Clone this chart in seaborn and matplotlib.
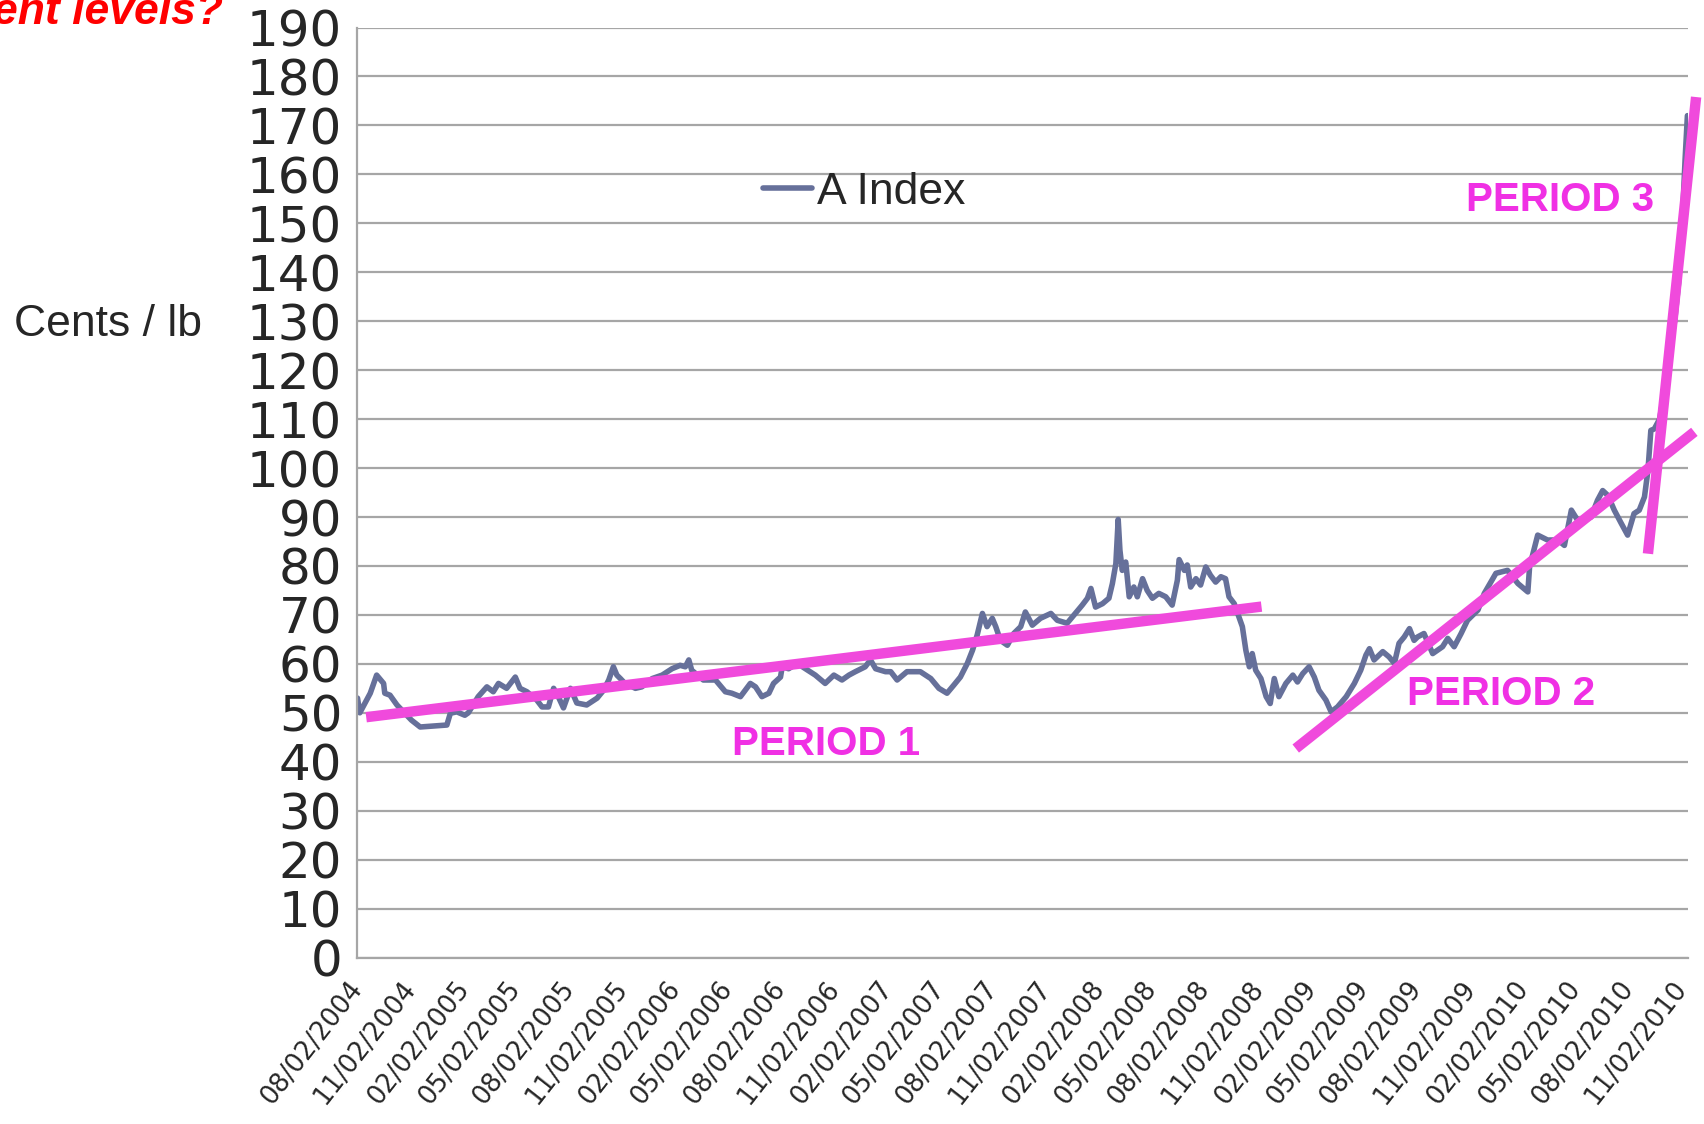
import pandas as pd
import matplotlib
matplotlib.use('Agg')
import matplotlib.pyplot as plt
import seaborn as sns

# Cotlook A Index, cents / lb
dates = [
    '2004-08-02', '2004-08-06', '2004-08-24', '2004-09-04', '2004-09-16', '2004-09-18',
    '2004-09-27', '2004-10-09', '2004-11-03', '2004-11-18', '2004-12-10', '2005-01-03',
    '2005-01-09', '2005-01-20', '2005-02-03', '2005-02-09', '2005-02-26', '2005-03-13',
    '2005-03-24', '2005-04-02', '2005-04-16', '2005-05-01', '2005-05-09', '2005-05-21',
    '2005-06-07', '2005-06-16', '2005-06-27', '2005-07-06', '2005-07-14', '2005-07-23',
    '2005-08-04', '2005-08-15', '2005-09-01', '2005-09-19', '2005-09-30', '2005-10-09',
    '2005-10-17', '2005-10-23', '2005-10-29', '2005-11-06', '2005-11-24', '2005-12-05',
    '2005-12-23', '2006-01-09', '2006-01-26', '2006-02-09', '2006-02-18', '2006-02-24',
    '2006-03-01', '2006-03-21', '2006-04-11', '2006-04-28', '2006-05-09', '2006-05-24',
    '2006-06-10', '2006-06-19', '2006-06-30', '2006-07-12', '2006-07-20', '2006-08-01',
    '2006-08-04', '2006-08-15', '2006-08-30', '2006-09-13', '2006-09-30', '2006-10-17',
    '2006-11-01', '2006-11-15', '2006-11-27', '2006-12-08', '2006-12-25', '2007-01-03',
    '2007-01-12', '2007-01-29', '2007-02-07', '2007-02-18', '2007-03-07', '2007-03-30',
    '2007-04-17', '2007-05-01', '2007-05-15', '2007-05-27', '2007-06-07', '2007-06-19',
    '2007-06-28', '2007-07-06', '2007-07-15', '2007-07-23', '2007-08-01', '2007-08-07',
    '2007-08-15', '2007-08-27', '2007-09-07', '2007-09-19', '2007-09-27', '2007-10-09',
    '2007-10-23', '2007-11-10', '2007-11-21', '2007-12-08', '2007-12-20', '2008-01-03',
    '2008-01-12', '2008-01-18', '2008-01-26', '2008-02-07', '2008-02-18', '2008-02-24',
    '2008-03-01', '2008-03-05', '2008-03-08', '2008-03-12', '2008-03-18', '2008-03-24',
    '2008-04-01', '2008-04-07', '2008-04-16', '2008-04-24', '2008-05-03', '2008-05-14',
    '2008-05-26', '2008-06-06', '2008-06-15', '2008-06-18', '2008-06-27', '2008-07-02',
    '2008-07-08', '2008-07-17', '2008-07-25', '2008-08-03', '2008-08-11', '2008-08-20',
    '2008-08-29', '2008-09-06', '2008-09-12', '2008-09-21', '2008-09-29', '2008-10-05',
    '2008-10-11', '2008-10-17', '2008-10-22', '2008-10-28', '2008-11-06', '2008-11-15',
    '2008-11-22', '2008-11-29', '2008-12-07', '2008-12-19', '2008-12-31', '2009-01-08',
    '2009-01-17', '2009-01-28', '2009-02-06', '2009-02-14', '2009-02-26', '2009-03-07',
    '2009-03-18', '2009-04-02', '2009-04-16', '2009-04-27', '2009-05-06', '2009-05-12',
    '2009-05-20', '2009-06-04', '2009-06-15', '2009-06-24', '2009-07-02', '2009-07-11',
    '2009-07-20', '2009-07-28', '2009-08-03', '2009-08-14', '2009-08-29', '2009-09-15',
    '2009-09-24', '2009-10-05', '2009-10-17', '2009-10-28', '2009-11-15', '2009-11-26',
    '2009-12-16', '2010-01-05', '2010-01-23', '2010-02-09', '2010-02-12', '2010-02-26',
    '2010-03-15', '2010-04-02', '2010-04-13', '2010-04-25', '2010-05-06', '2010-05-18',
    '2010-05-29', '2010-06-09', '2010-06-18', '2010-06-27', '2010-07-08', '2010-07-20',
    '2010-07-31', '2010-08-11', '2010-08-20', '2010-08-29', '2010-09-04', '2010-09-09',
    '2010-09-15', '2010-09-24', '2010-10-03', '2010-10-11', '2010-10-20', '2010-10-27',
    '2010-11-02', '2010-11-07', '2010-11-11',
]
a_index = [
    53.0, 50.0, 54.0, 57.7, 56.0, 54.0,
    53.6, 51.6, 48.5, 47.1, 47.3, 47.5,
    49.9, 50.2, 49.5, 50.0, 53.3, 55.3,
    54.3, 56.0, 55.0, 57.3, 55.0, 54.3,
    52.6, 51.2, 51.2, 55.0, 53.3, 51.0,
    55.0, 52.0, 51.6, 53.0, 54.6, 56.7,
    59.4, 57.7, 57.0, 56.0, 55.0, 55.3,
    57.0, 57.7, 59.0, 59.7, 59.4, 60.8,
    58.7, 56.7, 56.7, 54.3, 54.0, 53.3,
    56.0, 55.3, 53.3, 54.0, 56.0, 57.3,
    59.4, 59.0, 60.1, 59.0, 57.7, 56.0,
    57.7, 56.7, 57.7, 58.4, 59.4, 60.8,
    59.0, 58.4, 58.4, 56.7, 58.4, 58.4,
    57.0, 55.0, 54.0, 55.7, 57.3, 60.1,
    62.8, 65.9, 70.3, 67.6, 69.3, 67.6,
    64.8, 63.8, 66.2, 67.6, 70.6, 67.9,
    69.3, 70.3, 68.9, 68.3, 70.0, 72.0,
    73.4, 75.4, 71.6, 72.3, 73.4, 76.4,
    80.5, 89.5, 83.2, 79.1, 80.8, 73.7,
    75.7, 73.7, 77.4, 75.0, 73.4, 74.4,
    73.7, 72.0, 77.1, 81.3, 79.1, 80.2,
    75.7, 77.4, 76.1, 79.8, 78.1, 76.7,
    77.8, 77.4, 73.7, 72.3, 69.6, 67.6,
    62.8, 59.4, 62.1, 58.7, 57.0, 53.3,
    51.9, 57.0, 53.3, 56.0, 57.7, 56.3,
    58.0, 59.4, 57.3, 54.6, 52.6, 50.2,
    51.2, 53.3, 56.0, 58.7, 61.8, 63.1,
    60.8, 62.5, 61.4, 60.1, 64.2, 65.5,
    67.2, 64.8, 65.5, 66.2, 62.1, 63.5,
    65.2, 63.5, 66.2, 68.9, 71.0, 74.4,
    78.5, 79.1, 76.4, 74.7, 79.8, 86.3,
    85.3, 85.3, 84.2, 91.4, 89.3, 89.3,
    90.0, 93.4, 95.4, 94.4, 91.4, 88.7,
    86.3, 90.7, 91.4, 94.1, 99.5, 107.7,
    108.0, 110.0, 116.0, 124.0, 130.0, 138.0,
    150.0, 163.0, 172.0,
]

# hand drawn trend lines
periods = ['PERIOD 1', 'PERIOD 2', 'PERIOD 3']
trend_start = ['2004-08-17', '2009-01-05', '2010-09-04']
trend_start_val = [49.1, 42.7, 82.5]
trend_end = ['2008-11-07', '2010-11-23', '2010-11-26']
trend_end_val = [71.7, 107.4, 175.8]
label_date = ['2006-10-19', '2009-12-24', '2010-04-06']
label_val = [43.6, 53.8, 154.7]

df = pd.DataFrame({'date': pd.to_datetime(dates), 'A Index': a_index})

sns.set_style('whitegrid')
plt.rcParams['font.family'] = ['Liberation Sans', 'DejaVu Sans']

blue = '#66709A'
pink = '#F04ADC'
pink_text = '#F030E4'
grid = '#A6A6A6'

fig = plt.figure(figsize=(17.04, 11.24), dpi=100)
ax = fig.add_axes([0.2098, 0.1481, 0.7808, 0.8274])

sns.lineplot(data=df, x='date', y='A Index', ax=ax, color=blue, linewidth=4.0,
             label='A Index')

for s, sv, e, ev in zip(trend_start, trend_start_val, trend_end, trend_end_val):
    ax.plot(pd.to_datetime([s, e]), [sv, ev], color=pink, linewidth=7.5,
            solid_capstyle='butt', clip_on=False, zorder=4)

for name, d, v in zip(periods, label_date, label_val):
    ax.text(pd.Timestamp(d), v, name, color=pink_text, fontsize=29,
            fontweight='bold', ha='center', va='center', zorder=5)

ax.set_ylim(0, 190)
ax.set_yticks(range(0, 191, 10))
ax.set_yticklabels([str(v) for v in range(0, 191, 10)], family=['DejaVu Sans'])
ax.set_xlim(pd.Timestamp('2004-08-02'), pd.Timestamp('2010-11-12'))
ticks = pd.date_range('2004-08-02', '2010-11-02', freq=pd.DateOffset(months=3))
ax.set_xticks(ticks)
ax.set_xticklabels([t.strftime('%m/%d/%Y') for t in ticks], rotation=52,
                   ha='right', va='center', rotation_mode='anchor',
                   fontsize=18.5, family=['DejaVu Sans'])
ax.tick_params(axis='y', labelsize=36, length=8, width=1.5, color=grid, pad=3)
ax.tick_params(axis='x', length=8, width=1.5, color=grid, pad=11)
ax.grid(axis='y', color=grid, linewidth=1.6)
ax.grid(axis='x', visible=False)
ax.set_xlabel('')
ax.set_ylabel('')
for side in ['top', 'right']:
    ax.spines[side].set_visible(False)
for side in ['left', 'bottom']:
    ax.spines[side].set_color(grid)
    ax.spines[side].set_linewidth(1.6)

ax.legend(loc='center left', bbox_to_anchor=(0.448, 0.829),
          bbox_transform=fig.transFigure, frameon=False, fontsize=32,
          handlelength=1.1, handletextpad=0.1, borderpad=0, borderaxespad=0)

fig.text(0.0634, 0.711, 'Cents / lb', fontsize=32, ha='center', va='center')
fig.text(0.131, 0.9786, 'ent levels?', fontsize=32, color='#FF0000',
         fontweight='bold', fontstyle='italic', ha='right', va='baseline')

fig.savefig('out.png', dpi=100)
